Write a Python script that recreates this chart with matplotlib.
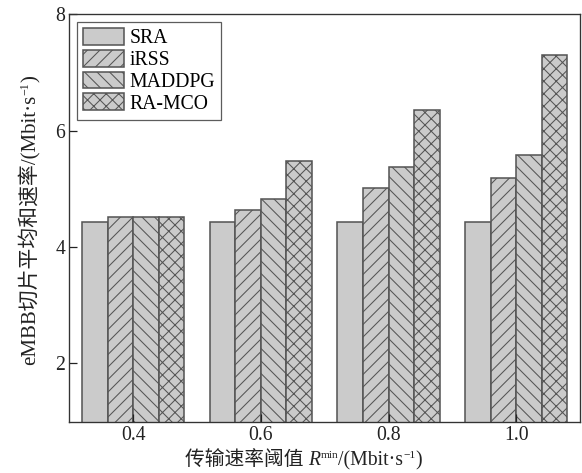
import numpy as np
import matplotlib
matplotlib.use("Agg")
import matplotlib.pyplot as plt

# values
thresholds = ["0.4", "0.6", "0.8", "1.0"]
methods = ["SRA", "iRSS", "MADDPG", "RA-MCO"]
sra = [4.43, 4.43, 4.43, 4.43]
irss = [4.52, 4.64, 5.01, 5.19]
maddpg = [4.52, 4.83, 5.37, 5.58]
ramco = [4.52, 5.48, 6.36, 7.30]
hatches = ["", "//", "\\\\", "xx"]

FONTS = ["Liberation Serif", "Noto Sans CJK SC", "DejaVu Serif"]
plt.rcParams["font.family"] = FONTS
plt.rcParams["hatch.linewidth"] = 1.0

DPI = 75
FS = 19
fig = plt.figure(figsize=(582 / DPI, 473 / DPI), dpi=DPI)
ax = fig.add_axes([0.1191, 0.1085, 0.8775, 0.8611])

x = np.arange(len(thresholds))
width = 0.2
edge = "#555555"
fill = "#cbcbcb"

series = [sra, irss, maddpg, ramco]
for i, (name, vals) in enumerate(zip(methods, series)):
    ax.bar(x + (i - 1.5) * width, vals, width, label=name, color=fill,
           edgecolor=edge, linewidth=1.5, hatch=hatches[i])

ax.set_xlim(-0.5, 3.5)
ax.set_ylim(1, 8)
ax.set_yticks([2, 4, 6, 8])
ax.set_xticks(x)
ax.set_xticklabels(thresholds)
ax.tick_params(direction="in", length=8, width=1.2, labelsize=FS, pad=4,
               colors="#222222")
for s in ax.spines.values():
    s.set_linewidth(1.3)
    s.set_color("#333333")

leg = ax.legend(loc="upper left", fontsize=FS, frameon=True, fancybox=False,
                edgecolor="#333333", borderaxespad=0.4, borderpad=0.3,
                labelspacing=0.08, handlelength=2.05, handleheight=0.92,
                handletextpad=0.3)
leg.get_frame().set_linewidth(1.2)


# axis labels built from pieces so CJK text and superscripts can mix
def chain_x(pieces, x0, y0):
    last = None
    for txt, size, rise, style in pieces:
        kw = dict(fontsize=size, style=style, va="baseline", ha="left",
                  color="#222222", family=FONTS)
        if last is None:
            last = fig.text(x0, y0, txt, **kw)
        else:
            last = ax.annotate(txt, xy=(1, y0), xycoords=(last, "figure fraction"),
                               xytext=(0, rise * 72 / DPI), textcoords="offset points",
                               annotation_clip=False, **kw)


def chain_y(pieces, x0, y0):
    last = None
    for txt, size, rise, style in pieces:
        kw = dict(fontsize=size, style=style, va="baseline", ha="left",
                  rotation=90, rotation_mode="anchor", color="#222222",
                  family=FONTS)
        if last is None:
            last = fig.text(x0, y0, txt, **kw)
        else:
            last = ax.annotate(txt, xy=(x0, 1), xycoords=("figure fraction", last),
                               xytext=(-rise * 72 / DPI, 0), textcoords="offset points",
                               annotation_clip=False, **kw)


xlabel = [("传输速率阈值 ", FS, 0, "normal"),
          ("R", FS, 0, "italic"),
          ("min", 11, 7, "normal"),
          ("/(Mbit·s", FS, 0, "normal"),
          ("−1", 11, 7, "normal"),
          (")", FS, 0, "normal")]
ylabel = [("eMBB切片平均和速率/(Mbit·s", 20, 0, "normal"),
          ("−1", 11.5, 7.5, "normal"),
          (")", 20, 0, "normal")]

chain_x(xlabel, 185 / 582, 8 / 473)
chain_y(ylabel, 36 / 582, 108 / 473)

fig.savefig("out.png", dpi=DPI)
